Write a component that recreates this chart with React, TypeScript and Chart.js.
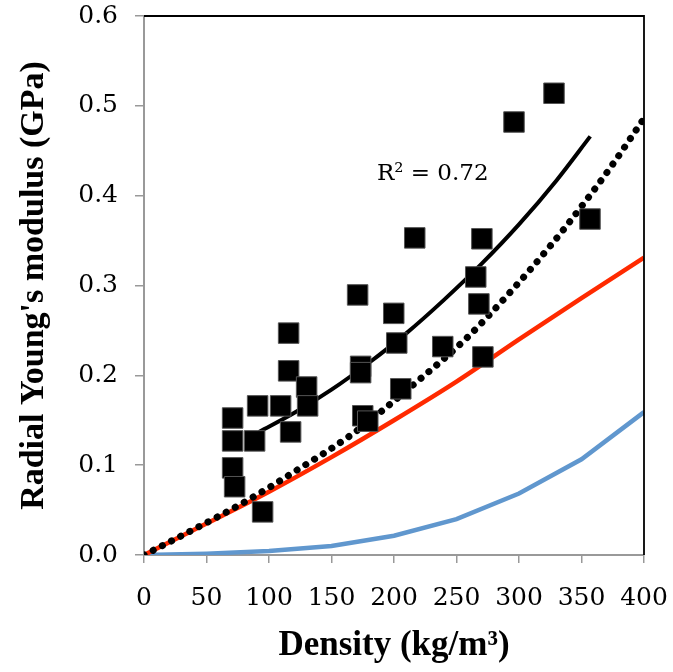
import React, { useEffect, useRef } from "react";
import { Chart, registerables } from "chart.js";

Chart.register(...registerables);

// Measured samples (density kg/m3, radial Young's modulus GPa)
const sampleX = [70.9, 70.9, 70.9, 72.5, 90.9, 109.3, 88.5, 94.9, 115.7, 115.7, 117.3, 130.1, 130.9, 170.9, 173.3, 173.3, 175.0, 179.0, 199.8, 202.2, 205.4, 216.6, 239.0, 265.4, 267.9, 270.3, 271.1, 296.0, 328.0, 356.8];
const sampleY = [0.1525, 0.127, 0.097, 0.076, 0.166, 0.166, 0.127, 0.048, 0.247, 0.205, 0.137, 0.187, 0.166, 0.2895, 0.210, 0.203, 0.155, 0.149, 0.269, 0.236, 0.185, 0.353, 0.232, 0.3095, 0.2795, 0.352, 0.2205, 0.482, 0.514, 0.374];

// Fitted trend line (solid black)
const fitX = [92, 120, 150, 180, 210, 240, 270, 300, 330, 357];
const fitY = [0.137, 0.158, 0.184, 0.214, 0.247, 0.284, 0.324, 0.368, 0.417, 0.466];

// Dotted model curve
const dotX = [0, 35, 83, 123, 166, 221, 257, 290, 325, 350, 373, 400];
const dotY = [0, 0.025, 0.061, 0.095, 0.134, 0.196, 0.240, 0.288, 0.344, 0.388, 0.431, 0.486];

// Red model curve
const redX = [0, 50, 100, 150, 200, 250, 300, 350, 400];
const redY = [0, 0.035, 0.0705, 0.109, 0.150, 0.193, 0.240, 0.286, 0.331];

// Blue model curve
const blueX = [0, 50, 100, 150, 200, 250, 300, 350, 400];
const blueY = [0, 0.0015, 0.0045, 0.010, 0.0215, 0.040, 0.0685, 0.1065, 0.159];

const xTicks = [0, 50, 100, 150, 200, 250, 300, 350, 400];
const yTicks = [0, 0.1, 0.2, 0.3, 0.4, 0.5, 0.6];

const r2Label = "R\u00B2 = 0.72";
const r2Pos = [231, 0.417];

const xTitle = "Density (kg/m\u00B3)";
const yTitle = "Radial Young's modulus (GPa)";

const zip = (xs: number[], ys: number[]) => xs.map((x, i) => ({ x, y: ys[i] }));

export default function App() {
  const ref = useRef<HTMLCanvasElement | null>(null);

  useEffect(() => {
    if (!ref.current) return;
    const frame = {
      id: "frame",
      afterDatasetsDraw(chart: any) {
        const { ctx, chartArea } = chart;
        ctx.save();
        ctx.strokeStyle = "#000";
        ctx.lineWidth = 1.8;
        ctx.beginPath();
        ctx.moveTo(chartArea.left, chartArea.top);
        ctx.lineTo(chartArea.right, chartArea.top);
        ctx.lineTo(chartArea.right, chartArea.bottom);
        ctx.stroke();
        const xs = chart.scales.x;
        const ys = chart.scales.y;
        ctx.fillStyle = "#000";
        ctx.font = "23px 'DejaVu Serif'";
        ctx.textAlign = "center";
        ctx.textBaseline = "alphabetic";
        ctx.fillText(r2Label, xs.getPixelForValue(r2Pos[0]), ys.getPixelForValue(r2Pos[1]));
        ctx.restore();
      },
    };

    const chart = new Chart(ref.current, {
      type: "scatter",
      data: {
        datasets: [
          {
            label: "samples",
            data: zip(sampleX, sampleY),
            pointStyle: "rect",
            pointRadius: 14.5,
            backgroundColor: "#000",
            borderColor: "#555",
            borderWidth: 1,
            showLine: false,
          },
          {
            label: "dotted",
            data: zip(dotX, dotY),
            showLine: true,
            pointRadius: 0,
            borderColor: "#000",
            borderWidth: 7,
            borderDash: [0.1, 10.2],
            borderCapStyle: "round",
            cubicInterpolationMode: "monotone",
          },
          {
            label: "fit",
            data: zip(fitX, fitY),
            showLine: true,
            pointRadius: 0,
            borderColor: "#000",
            borderWidth: 4,
            cubicInterpolationMode: "monotone",
          },
          {
            label: "red",
            data: zip(redX, redY),
            showLine: true,
            pointRadius: 0,
            borderColor: "#FF2A00",
            borderWidth: 4.5,
            cubicInterpolationMode: "monotone",
          },
          {
            label: "blue",
            data: zip(blueX, blueY),
            showLine: true,
            pointRadius: 0,
            borderColor: "#6097CE",
            borderWidth: 4.5,
            tension: 0,
          },
        ],
      } as any,
      options: {
        animation: false,
        responsive: false,
        maintainAspectRatio: false,
        layout: { padding: { top: 16, right: 29, left: 0, bottom: 0 } },
        plugins: { legend: { display: false }, tooltip: { enabled: false } },
        scales: {
          x: {
            type: "linear",
            min: 0,
            max: 400,
            afterBuildTicks: (s: any) => {
              s.ticks = xTicks.map((v) => ({ value: v }));
            },
            afterFit: (s: any) => {
              s.height = 117;
              s.paddingLeft = 0;
              s.paddingRight = 0;
            },
            grid: { display: true, drawOnChartArea: false, drawTicks: true, tickLength: 8, color: "#999", lineWidth: 1.5 },
            border: { display: true, color: "#999", width: 2 },
            ticks: {
              color: "#000",
              padding: 20,
              font: { family: "'DejaVu Serif'", size: 25, lineHeight: 1.2 },
              callback: (v: any) => String(v),
              maxRotation: 0,
            },
            title: {
              display: true,
              text: xTitle,
              color: "#000",
              font: { family: "'Liberation Serif'", size: 35, weight: "bold", lineHeight: 1.2 },
              padding: { top: 0, bottom: 5 },
            },
          },
          y: {
            type: "linear",
            min: 0,
            max: 0.6,
            afterBuildTicks: (s: any) => {
              s.ticks = yTicks.map((v) => ({ value: v }));
            },
            afterFit: (s: any) => {
              s.width = 144;
              s.paddingTop = 0;
              s.paddingBottom = 0;
            },
            grid: { display: true, drawOnChartArea: false, drawTicks: true, tickLength: 9, color: "#999", lineWidth: 1.5 },
            border: { display: true, color: "#999", width: 2 },
            ticks: {
              color: "#000",
              padding: 17,
              font: { family: "'DejaVu Serif'", size: 25, lineHeight: 1.2 },
              callback: (v: any) => Number(v).toFixed(1),
            },
            title: {
              display: true,
              text: yTitle,
              color: "#000",
              font: { family: "'Liberation Serif'", size: 34, weight: "bold", lineHeight: 1.2 },
              padding: { top: 14, bottom: 0 },
            },
          },
        },
      } as any,
      plugins: [frame],
    });
    return () => chart.destroy();
  }, []);

  return (
    <div style={{ position: "absolute", left: 0, top: 0, width: 673, height: 672 }}>
      <canvas ref={ref} width={673} height={672} style={{ display: "block", width: 673, height: 672 }} />
    </div>
  );
}
